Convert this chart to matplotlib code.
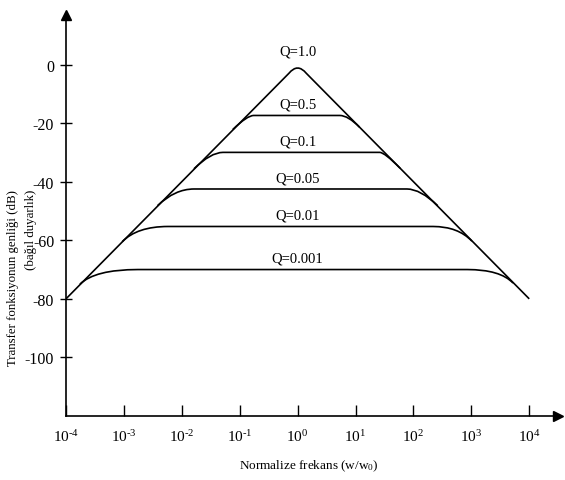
import numpy as np
import matplotlib
matplotlib.use("Agg")
import matplotlib.pyplot as plt
from matplotlib.path import Path
from matplotlib.patches import PathPatch

plt.rcParams['font.family'] = ['Liberation Serif', 'DejaVu Serif']
plt.rcParams['mathtext.fontset'] = 'custom'
plt.rcParams['mathtext.rm'] = 'Liberation Serif'
plt.rcParams['mathtext.it'] = 'Liberation Serif:italic'

# ---- data ----
q_labels = ["Q=0.001", "Q=0.01", "Q=0.05", "Q=0.1", "Q=0.5"]
plateau_db = [-70.0, -55.3, -42.5, -30.0, -17.4]
# left transition: branch point on the slope (exponent, dB), corner exponent, plateau start exponent
left_branch_exp = [-3.76, -3.03, -2.42, -1.79, -1.12]
left_branch_db = [-75.0, -60.5, -48.2, -35.6, -22.2]
left_corner_exp = [-3.50, -2.77, -2.12, -1.50, -0.87]
left_plateau_exp = [-2.76, -2.24, -1.79, -1.29, -0.76]
# right transition
right_plateau_exp = [2.93, 2.34, 1.89, 1.42, 0.73]
right_corner_exp = [3.50, 2.77, 2.12, 1.50, 0.87]
right_branch_exp = [3.72, 3.01, 2.42, 1.77, 1.07]
right_branch_db = [-74.6, -60.3, -48.2, -35.4, -21.4]

# Q=1.0 envelope (triangle with rounded apex)
env_exp = [-4.0, -0.15, 0.0, 0.15, 4.0]
env_db = [-80.0, -3.0, 0.6, -3.0, -80.0]
env_label = "Q=1.0"

x_tick_exp = [-4, -3, -2, -1, 0, 1, 2, 3, 4]
y_ticks = [0, -20, -40, -60, -80, -100]

# ---- figure ----
fig = plt.figure(figsize=(5.65, 4.81), dpi=100)
ax = fig.add_axes([66/565, 64/481, 492/565, 401/481])
ax.set_xscale('log')
ax.set_xlim(1e-4, 10**4.497)
ax.set_ylim(-120, 16.9)

lw = 1.2
# envelope
ev = [(10**e, d) for e, d in zip(env_exp, env_db)]
path = Path(ev, [Path.MOVETO, Path.LINETO, Path.CURVE3, Path.CURVE3, Path.LINETO])
ax.add_patch(PathPatch(path, fill=False, lw=lw, color='black', capstyle='butt'))
ax.annotate(env_label, (1, 0), xytext=(0, 9.5), textcoords='offset points',
            ha='center', va='center', fontsize=10.5)

for i, lab in enumerate(q_labels):
    p = plateau_db[i]
    verts = [
        (10**left_branch_exp[i], left_branch_db[i]),
        (10**left_corner_exp[i], p),
        (10**left_plateau_exp[i], p),
        (10**right_plateau_exp[i], p),
        (10**right_corner_exp[i], p),
        (10**right_branch_exp[i], right_branch_db[i]),
    ]
    codes = [Path.MOVETO, Path.CURVE3, Path.CURVE3, Path.LINETO, Path.CURVE3, Path.CURVE3]
    ax.add_patch(PathPatch(Path(verts, codes), fill=False, lw=lw, color='black'))
    ax.annotate(lab, (1, p), xytext=(0, 8), textcoords='offset points',
                ha='center', va='center', fontsize=10.5)

# axes styling
for s in ['top', 'right']:
    ax.spines[s].set_visible(False)
for s in ['left', 'bottom']:
    ax.spines[s].set_linewidth(1.2)
ax.set_xticks([10.0**e for e in x_tick_exp])
ax.set_xticklabels(['$\\mathregular{10^{%s}}$' % (str(e).replace('-', '\u2010')) for e in x_tick_exp])
ax.xaxis.set_minor_locator(matplotlib.ticker.NullLocator())
ax.set_yticks(y_ticks)
ax.set_yticklabels([str(v) for v in y_ticks])
ax.tick_params(axis='x', direction='in', length=8, width=1, pad=9, labelsize=11)
ax.tick_params(axis='y', direction='inout', length=9, width=1, pad=4, labelsize=11.5)

ax.plot(1, 0, '>', color='black', ms=7, transform=ax.transAxes, clip_on=False)
ax.plot(0, 1, '^', color='black', ms=7, transform=ax.transAxes, clip_on=False)

fig.text(309/565, 1 - 466/481, 'Normalize frekans (w/w$_\\mathregular{0}$)',
         ha='center', va='center', fontsize=9.5)
fig.text(13/565, 1 - 190/481, 'Transfer fonksiyonun genliği (dB)',
         ha='center', va='top', rotation=90, fontsize=9.3)
fig.text(31/565, 1 - 190/481, '(bağıl duyarlık)',
         ha='center', va='top', rotation=90, fontsize=9.3)

fig.savefig('out.png', dpi=100)
